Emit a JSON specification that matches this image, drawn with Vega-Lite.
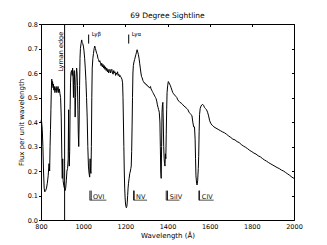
{
  "$schema": "https://vega.github.io/schema/vega-lite/v6.json",
  "autosize": {"type": "none"},
  "width": 253,
  "height": 196,
  "padding": {"left": 41, "top": 24, "right": 33, "bottom": 25},
  "background": "white",
  "config": {
    "view": {"stroke": "#000", "strokeWidth": 1},
    "font": "DejaVu Sans",
    "axis": {"grid": false, "domain": false, "labelFont": "DejaVu Sans", "titleFont": "DejaVu Sans", "labelColor": "#000", "titleColor": "#000", "tickColor": "#000", "labelFontSize": 6.5, "titleFontSize": 7, "titleFontWeight": "normal"},
    "title": {"font": "DejaVu Sans", "fontSize": 7.5, "fontWeight": "normal", "color": "#000", "offset": 2}
  },
  "title": {"text": "69 Degree Sightline"},
  "datasets": {
    "spec": [
      {"w": 800, "f": 0.40}, {"w": 802, "f": 0.41}, {"w": 804, "f": 0.39}, {"w": 806, "f": 0.37}, {"w": 809, "f": 0.30}, {"w": 812, "f": 0.20}, {"w": 815, "f": 0.13}, {"w": 818, "f": 0.115}, {"w": 822, "f": 0.12}, {"w": 826, "f": 0.13}, {"w": 830, "f": 0.15}, {"w": 834, "f": 0.18}, {"w": 838, "f": 0.23}, {"w": 841, "f": 0.20}, {"w": 843, "f": 0.30}, {"w": 845, "f": 0.37}, {"w": 847, "f": 0.45}, {"w": 849, "f": 0.53}, {"w": 851, "f": 0.575}, {"w": 853, "f": 0.55}, {"w": 855, "f": 0.565}, {"w": 857, "f": 0.54}, {"w": 859, "f": 0.555}, {"w": 861, "f": 0.53}, {"w": 863, "f": 0.545}, {"w": 866, "f": 0.52}, {"w": 869, "f": 0.535}, {"w": 872, "f": 0.545}, {"w": 875, "f": 0.52}, {"w": 878, "f": 0.535}, {"w": 881, "f": 0.545}, {"w": 884, "f": 0.52}, {"w": 887, "f": 0.535}, {"w": 890, "f": 0.515}, {"w": 893, "f": 0.50},
      {"w": 896, "f": 0.42}, {"w": 899, "f": 0.25}, {"w": 901, "f": 0.17}, {"w": 903, "f": 0.25}, {"w": 905, "f": 0.16}, {"w": 908, "f": 0.14}, {"w": 911, "f": 0.13}, {"w": 914, "f": 0.12}, {"w": 917, "f": 0.13}, {"w": 920, "f": 0.16}, {"w": 923, "f": 0.20}, {"w": 926, "f": 0.21}, {"w": 929, "f": 0.25}, {"w": 931, "f": 0.45}, {"w": 932, "f": 0.30}, {"w": 934, "f": 0.22}, {"w": 936, "f": 0.28}, {"w": 938, "f": 0.45}, {"w": 940, "f": 0.56}, {"w": 942, "f": 0.60}, {"w": 945, "f": 0.61}, {"w": 948, "f": 0.59}, {"w": 950, "f": 0.62}, {"w": 952, "f": 0.58}, {"w": 954, "f": 0.50}, {"w": 956, "f": 0.60}, {"w": 958, "f": 0.61}, {"w": 960, "f": 0.55}, {"w": 962, "f": 0.42}, {"w": 964, "f": 0.50}, {"w": 966, "f": 0.58}, {"w": 969, "f": 0.62}, {"w": 971, "f": 0.60}, {"w": 973, "f": 0.55}, {"w": 975, "f": 0.45}, {"w": 977, "f": 0.35}, {"w": 979, "f": 0.30}, {"w": 981, "f": 0.40}, {"w": 983, "f": 0.55}, {"w": 985, "f": 0.66}, {"w": 987, "f": 0.70}, {"w": 990, "f": 0.72}, {"w": 993, "f": 0.735}, {"w": 995, "f": 0.725}, {"w": 998, "f": 0.72}, {"w": 1001, "f": 0.71}, {"w": 1004, "f": 0.69}, {"w": 1007, "f": 0.66}, {"w": 1010, "f": 0.62}, {"w": 1013, "f": 0.57}, {"w": 1016, "f": 0.50}, {"w": 1019, "f": 0.42}, {"w": 1022, "f": 0.30}, {"w": 1025, "f": 0.22}, {"w": 1028, "f": 0.19}, {"w": 1031, "f": 0.175}, {"w": 1033, "f": 0.25}, {"w": 1035, "f": 0.20}, {"w": 1037, "f": 0.19}, {"w": 1039, "f": 0.30}, {"w": 1041, "f": 0.50}, {"w": 1043, "f": 0.62}, {"w": 1046, "f": 0.66}, {"w": 1049, "f": 0.68}, {"w": 1052, "f": 0.70}, {"w": 1055, "f": 0.71}, {"w": 1058, "f": 0.70},
      {"w": 1061, "f": 0.69}, {"w": 1064, "f": 0.68}, {"w": 1067, "f": 0.675}, {"w": 1070, "f": 0.66}, {"w": 1073, "f": 0.655}, {"w": 1076, "f": 0.645}, {"w": 1079, "f": 0.65}, {"w": 1082, "f": 0.64}, {"w": 1085, "f": 0.63}, {"w": 1088, "f": 0.64}, {"w": 1091, "f": 0.625}, {"w": 1094, "f": 0.635}, {"w": 1097, "f": 0.62}, {"w": 1100, "f": 0.63}, {"w": 1103, "f": 0.615}, {"w": 1106, "f": 0.625}, {"w": 1109, "f": 0.61}, {"w": 1112, "f": 0.62}, {"w": 1115, "f": 0.605}, {"w": 1118, "f": 0.615}, {"w": 1121, "f": 0.60}, {"w": 1124, "f": 0.61}, {"w": 1127, "f": 0.615}, {"w": 1130, "f": 0.60}, {"w": 1133, "f": 0.61}, {"w": 1136, "f": 0.615}, {"w": 1139, "f": 0.60}, {"w": 1142, "f": 0.595}, {"w": 1145, "f": 0.61}, {"w": 1148, "f": 0.60}, {"w": 1151, "f": 0.605}, {"w": 1154, "f": 0.59}, {"w": 1157, "f": 0.60}, {"w": 1160, "f": 0.595}, {"w": 1163, "f": 0.605}, {"w": 1166, "f": 0.59}, {"w": 1169, "f": 0.595}, {"w": 1172, "f": 0.585}, {"w": 1175, "f": 0.59}, {"w": 1178, "f": 0.585}, {"w": 1181, "f": 0.58}, {"w": 1184, "f": 0.575}, {"w": 1187, "f": 0.56}, {"w": 1189, "f": 0.50}, {"w": 1191, "f": 0.40}, {"w": 1193, "f": 0.30}, {"w": 1195, "f": 0.20}, {"w": 1197, "f": 0.13}, {"w": 1199, "f": 0.09}, {"w": 1201, "f": 0.065}, {"w": 1203, "f": 0.055}, {"w": 1205, "f": 0.05}, {"w": 1207, "f": 0.055}, {"w": 1209, "f": 0.07}, {"w": 1211, "f": 0.10}, {"w": 1213, "f": 0.13}, {"w": 1215, "f": 0.15}, {"w": 1218, "f": 0.17}, {"w": 1221, "f": 0.19}, {"w": 1224, "f": 0.20}, {"w": 1226, "f": 0.21}, {"w": 1228, "f": 0.22}, {"w": 1230, "f": 0.28}, {"w": 1232, "f": 0.38}, {"w": 1234, "f": 0.50}, {"w": 1236, "f": 0.60}, {"w": 1238, "f": 0.63}, {"w": 1241, "f": 0.645}, {"w": 1244, "f": 0.655}, {"w": 1247, "f": 0.665}, {"w": 1250, "f": 0.675}, {"w": 1253, "f": 0.685}, {"w": 1256, "f": 0.695}, {"w": 1259, "f": 0.685}, {"w": 1262, "f": 0.675}, {"w": 1265, "f": 0.66}, {"w": 1268, "f": 0.64}, {"w": 1271, "f": 0.62}, {"w": 1274, "f": 0.60}, {"w": 1277, "f": 0.585}, {"w": 1280, "f": 0.58}, {"w": 1283, "f": 0.57}, {"w": 1286, "f": 0.565}, {"w": 1289, "f": 0.56}, {"w": 1292, "f": 0.56}, {"w": 1295, "f": 0.555}, {"w": 1298, "f": 0.555}, {"w": 1301, "f": 0.55}, {"w": 1304, "f": 0.55}, {"w": 1307, "f": 0.545}, {"w": 1310, "f": 0.545}, {"w": 1313, "f": 0.54}, {"w": 1316, "f": 0.54}, {"w": 1319, "f": 0.545}, {"w": 1322, "f": 0.535}, {"w": 1325, "f": 0.53}, {"w": 1328, "f": 0.525}, {"w": 1331, "f": 0.52}, {"w": 1334, "f": 0.515}, {"w": 1337, "f": 0.51}, {"w": 1340, "f": 0.505}, {"w": 1343, "f": 0.50}, {"w": 1346, "f": 0.495}, {"w": 1349, "f": 0.485}, {"w": 1352, "f": 0.47}, {"w": 1355, "f": 0.46}, {"w": 1358, "f": 0.45}, {"w": 1361, "f": 0.44}, {"w": 1364, "f": 0.40}, {"w": 1366, "f": 0.30}, {"w": 1368, "f": 0.20}, {"w": 1370, "f": 0.17}, {"w": 1372, "f": 0.30}, {"w": 1374, "f": 0.44}, {"w": 1376, "f": 0.47}, {"w": 1378, "f": 0.48}, {"w": 1380, "f": 0.40}, {"w": 1382, "f": 0.30}, {"w": 1384, "f": 0.25}, {"w": 1386, "f": 0.23}, {"w": 1388, "f": 0.22}, {"w": 1390, "f": 0.27}, {"w": 1392, "f": 0.25}, {"w": 1394, "f": 0.35}, {"w": 1396, "f": 0.45}, {"w": 1398, "f": 0.52}, {"w": 1401, "f": 0.55}, {"w": 1404, "f": 0.565}, {"w": 1407, "f": 0.56}, {"w": 1410, "f": 0.555}, {"w": 1413, "f": 0.55}, {"w": 1417, "f": 0.54}, {"w": 1421, "f": 0.53}, {"w": 1425, "f": 0.52}, {"w": 1429, "f": 0.515}, {"w": 1434, "f": 0.51}, {"w": 1439, "f": 0.505}, {"w": 1444, "f": 0.50}, {"w": 1449, "f": 0.49}, {"w": 1454, "f": 0.485}, {"w": 1459, "f": 0.48}, {"w": 1464, "f": 0.478}, {"w": 1468, "f": 0.475}, {"w": 1473, "f": 0.47}, {"w": 1478, "f": 0.465}, {"w": 1483, "f": 0.462}, {"w": 1488, "f": 0.458}, {"w": 1492, "f": 0.455}, {"w": 1497, "f": 0.45}, {"w": 1502, "f": 0.44}, {"w": 1507, "f": 0.435}, {"w": 1512, "f": 0.43}, {"w": 1516, "f": 0.425}, {"w": 1520, "f": 0.40}, {"w": 1524, "f": 0.38}, {"w": 1528, "f": 0.38}, {"w": 1531, "f": 0.33}, {"w": 1533, "f": 0.25}, {"w": 1535, "f": 0.18}, {"w": 1538, "f": 0.15}, {"w": 1540, "f": 0.143}, {"w": 1543, "f": 0.16}, {"w": 1546, "f": 0.21}, {"w": 1548, "f": 0.26}, {"w": 1550, "f": 0.36}, {"w": 1552, "f": 0.43}, {"w": 1555, "f": 0.455}, {"w": 1559, "f": 0.465}, {"w": 1563, "f": 0.47}, {"w": 1567, "f": 0.472}, {"w": 1571, "f": 0.468}, {"w": 1575, "f": 0.46}, {"w": 1580, "f": 0.455}, {"w": 1585, "f": 0.45}, {"w": 1590, "f": 0.44}, {"w": 1595, "f": 0.425}, {"w": 1600, "f": 0.405}, {"w": 1605, "f": 0.395}, {"w": 1610, "f": 0.388}, {"w": 1615, "f": 0.385}, {"w": 1620, "f": 0.38}, {"w": 1630, "f": 0.375}, {"w": 1640, "f": 0.37}, {"w": 1650, "f": 0.365}, {"w": 1660, "f": 0.36}, {"w": 1670, "f": 0.356}, {"w": 1680, "f": 0.35}, {"w": 1690, "f": 0.343}, {"w": 1700, "f": 0.337}, {"w": 1710, "f": 0.33}, {"w": 1720, "f": 0.327}, {"w": 1730, "f": 0.32}, {"w": 1740, "f": 0.316}, {"w": 1750, "f": 0.308}, {"w": 1760, "f": 0.302}, {"w": 1770, "f": 0.297}, {"w": 1780, "f": 0.291}, {"w": 1790, "f": 0.284}, {"w": 1800, "f": 0.279}, {"w": 1810, "f": 0.273}, {"w": 1820, "f": 0.269}, {"w": 1830, "f": 0.262}, {"w": 1840, "f": 0.258}, {"w": 1850, "f": 0.251}, {"w": 1860, "f": 0.245}, {"w": 1870, "f": 0.24}, {"w": 1880, "f": 0.234}, {"w": 1890, "f": 0.229}, {"w": 1900, "f": 0.224}, {"w": 1910, "f": 0.219}, {"w": 1920, "f": 0.214}, {"w": 1930, "f": 0.21}, {"w": 1940, "f": 0.204}, {"w": 1950, "f": 0.2}, {"w": 1960, "f": 0.194}, {"w": 1970, "f": 0.188}, {"w": 1980, "f": 0.182}, {"w": 1990, "f": 0.175}, {"w": 2000, "f": 0.17}
    ],
    "lylines": [
      {"x": 1026, "y": 0.72, "y2": 0.757, "label": "Lyβ"},
      {"x": 1216, "y": 0.72, "y2": 0.757, "label": "Lyα"}
    ],
    "ionbars": [
      {"x": 1032}, {"x": 1038}, {"x": 1239}, {"x": 1242}, {"x": 1394}, {"x": 1400}, {"x": 1549}, {"x": 1552}
    ],
    "ions": [
      {"x": 1031, "x2": 1110, "tx": 1047, "label": "OVI"},
      {"x": 1239, "x2": 1303, "tx": 1251, "label": "NV"},
      {"x": 1394, "x2": 1457, "tx": 1411, "label": "SiIV"},
      {"x": 1549, "x2": 1619, "tx": 1563, "label": "CIV"}
    ]
  },
  "resolve": {"axis": {"x": "independent", "y": "independent"}},
  "layer": [
    {
      "data": {"name": "spec"},
      "mark": {"type": "line", "color": "#000", "strokeWidth": 1},
      "encoding": {
        "x": {"field": "w", "type": "quantitative", "scale": {"domain": [800, 2000], "nice": false, "zero": false}, "axis": {"title": "Wavelength (Å)", "values": [800, 1000, 1200, 1400, 1600, 1800, 2000], "format": "d", "tickSize": 0, "labelPadding": 3, "titlePadding": 2, "labelFlush": false}},
        "y": {"field": "f", "type": "quantitative", "scale": {"domain": [0, 0.8], "nice": false}, "axis": {"title": "Flux per unit wavelength", "values": [0, 0.1, 0.2, 0.3, 0.4, 0.5, 0.6, 0.7, 0.8], "format": ".1f", "tickSize": 2.5, "labelPadding": 1, "titlePadding": 3, "labelFlush": false}}
      }
    },
    {
      "data": {"name": "spec"},
      "mark": {"type": "point", "opacity": 0},
      "encoding": {
        "x": {"field": "w", "type": "quantitative", "axis": {"orient": "top", "title": null, "labels": false, "values": [800, 1000, 1200, 1400, 1600, 1800, 2000], "tickSize": -2.5}},
        "y": {"field": "f", "type": "quantitative", "axis": {"orient": "right", "title": null, "labels": false, "values": [0, 0.1, 0.2, 0.3, 0.4, 0.5, 0.6, 0.7, 0.8], "tickSize": -2.5}}
      }
    },
    {
      "data": {"values": [{"x": 912, "y": 0, "y2": 0.8}]},
      "mark": {"type": "rule", "color": "#000", "strokeWidth": 1},
      "encoding": {
        "x": {"field": "x", "type": "quantitative", "axis": null},
        "y": {"field": "y", "type": "quantitative", "axis": null},
        "y2": {"field": "y2"}
      }
    },
    {
      "data": {"values": [{"x": 912, "y": 0.768, "label": "Lyman edge"}]},
      "mark": {"type": "text", "angle": 270, "align": "right", "baseline": "bottom", "fontSize": 6.5, "color": "#000", "dy": -0.5},
      "encoding": {
        "x": {"field": "x", "type": "quantitative", "axis": null},
        "y": {"field": "y", "type": "quantitative", "axis": null},
        "text": {"field": "label"}
      }
    },
    {
      "data": {"name": "lylines"},
      "mark": {"type": "rule", "color": "#000", "strokeWidth": 1},
      "encoding": {
        "x": {"field": "x", "type": "quantitative", "axis": null},
        "y": {"field": "y", "type": "quantitative", "axis": null},
        "y2": {"field": "y2"}
      }
    },
    {
      "data": {"name": "lylines"},
      "mark": {"type": "text", "align": "left", "baseline": "top", "fontSize": 5.5, "color": "#000", "dx": 3, "dy": -3},
      "encoding": {
        "x": {"field": "x", "type": "quantitative", "axis": null},
        "y": {"field": "y2", "type": "quantitative", "axis": null},
        "text": {"field": "label"}
      }
    },
    {
      "data": {"name": "ionbars"},
      "mark": {"type": "rule", "color": "#222", "strokeWidth": 1},
      "encoding": {
        "x": {"field": "x", "type": "quantitative", "axis": null},
        "y": {"datum": 0.081, "type": "quantitative", "axis": null},
        "y2": {"datum": 0.12}
      }
    },
    {
      "data": {"name": "ions"},
      "mark": {"type": "rule", "color": "#222", "strokeWidth": 0.8},
      "encoding": {
        "x": {"field": "x", "type": "quantitative", "axis": null},
        "x2": {"field": "x2"},
        "y": {"datum": 0.081, "type": "quantitative", "axis": null}
      }
    },
    {
      "data": {"name": "ions"},
      "mark": {"type": "text", "align": "left", "baseline": "alphabetic", "fontSize": 6.5, "color": "#111"},
      "encoding": {
        "x": {"field": "tx", "type": "quantitative", "axis": null},
        "y": {"datum": 0.086, "type": "quantitative", "axis": null},
        "text": {"field": "label"}
      }
    }
  ]
}
